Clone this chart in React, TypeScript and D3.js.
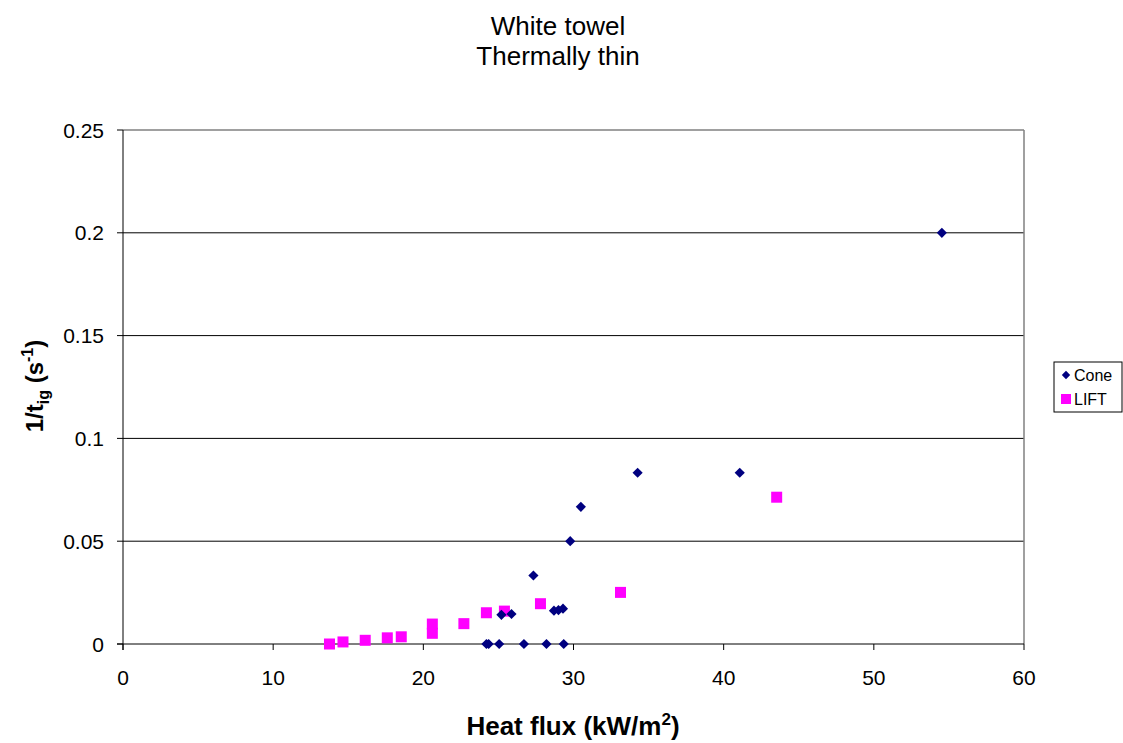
import React from "react";
import * as d3 from "d3";

const coneX = [24.2, 24.35, 25.05, 26.7, 28.2, 29.35, 25.2, 25.87, 27.33, 28.7, 29.0, 29.3, 29.78, 30.49, 34.27, 41.07, 54.53];
const coneY = [0, 0, 0, 0, 0, 0, 0.0142, 0.0146, 0.0333, 0.0162, 0.0165, 0.0172, 0.05, 0.0667, 0.0833, 0.0833, 0.2];
const liftX = [13.75, 14.65, 16.13, 17.6, 18.53, 20.6, 20.6, 22.7, 24.2, 25.4, 27.8, 33.13, 43.53];
const liftY = [0, 0.001, 0.0018, 0.003, 0.0035, 0.0097, 0.0052, 0.0099, 0.0152, 0.016, 0.0196, 0.0251, 0.0714];
const xTicks = [0, 10, 20, 30, 40, 50, 60];
const yTicks = [0, 0.05, 0.1, 0.15, 0.2, 0.25];
const titleLines = ["White towel", "Thermally thin"];

const W = 1123, H = 743;
const L = 123, R = 1024, T = 130, B = 644;
const font = "Liberation Sans, Arial, sans-serif";

export default function App() {
  const x = d3.scaleLinear().domain([0, 60]).range([L, R]);
  const y = d3.scaleLinear().domain([0, 0.25]).range([B, T]);
  const diamond = d3.symbol().type(d3.symbolDiamond2).size(66)();
  const cone = coneX.map((v, i) => ({ x: v, y: coneY[i] }));
  const lift = liftX.map((v, i) => ({ x: v, y: liftY[i] }));
  return (
    <svg width={W} height={H} style={{ position: "absolute", left: 0, top: 0 }} fontFamily={font}>
      <rect x={0} y={0} width={W} height={H} fill="#fff" />
      {titleLines.map((t, i) => (
        <text key={t} x={558} y={35 + i * 30} textAnchor="middle" fontSize={26}>{t}</text>
      ))}
      {yTicks.filter(t => t > 0 && t < 0.25).map(t => (
        <line key={t} x1={L} x2={R} y1={y(t)} y2={y(t)} stroke="#000" strokeWidth={1} />
      ))}
      <line x1={L} x2={R} y1={T} y2={T} stroke="#808080" strokeWidth={1.5} />
      <line x1={R} x2={R} y1={T} y2={B} stroke="#808080" strokeWidth={1.5} />
      <line x1={L} x2={L} y1={T} y2={B + 6} stroke="#000" strokeWidth={1} />
      <line x1={L - 6} x2={R} y1={B} y2={B} stroke="#000" strokeWidth={1} />
      {yTicks.map(t => (
        <g key={t}>
          <line x1={L - 6} x2={L} y1={y(t)} y2={y(t)} stroke="#000" />
          <text x={104} y={y(t) + 7.5} textAnchor="end" fontSize={21}>{d3.format("~g")(t)}</text>
        </g>
      ))}
      {xTicks.map(t => (
        <g key={t}>
          <line x1={x(t)} x2={x(t)} y1={B} y2={B + 6} stroke="#000" />
          <text x={x(t)} y={685} textAnchor="middle" fontSize={21}>{t}</text>
        </g>
      ))}
      <text x={573} y={735} textAnchor="middle" fontSize={26} fontWeight="bold">
        Heat flux (kW/m<tspan dy={-10} fontSize={17}>2</tspan><tspan dy={10}>)</tspan>
      </text>
      <text transform="translate(43,386) rotate(-90)" textAnchor="middle" fontSize={24} fontWeight="bold">
        1/t<tspan dy={6} fontSize={16}>ig</tspan><tspan dy={-6}> (s</tspan><tspan dy={-10} fontSize={16}>-1</tspan><tspan dy={10}>)</tspan>
      </text>
      {lift.map((d, i) => (
        <rect key={"l" + i} x={x(d.x) - 5.5} y={y(d.y) - 5.5} width={11} height={11} fill="#ff00ff" />
      ))}
      {cone.map((d, i) => (
        <path key={"c" + i} d={diamond} transform={`translate(${x(d.x)},${y(d.y)})`} fill="#000080" />
      ))}
      <rect x={1054} y={362} width={68} height={50} fill="#fff" stroke="#000" strokeWidth={1} />
      <path d={d3.symbol().type(d3.symbolDiamond2).size(45)()} transform="translate(1066,375)" fill="#000080" />
      <text x={1074} y={381} fontSize={16}>Cone</text>
      <rect x={1061} y={394} width={10} height={10} fill="#ff00ff" />
      <text x={1074} y={405} fontSize={16}>LIFT</text>
    </svg>
  );
}
